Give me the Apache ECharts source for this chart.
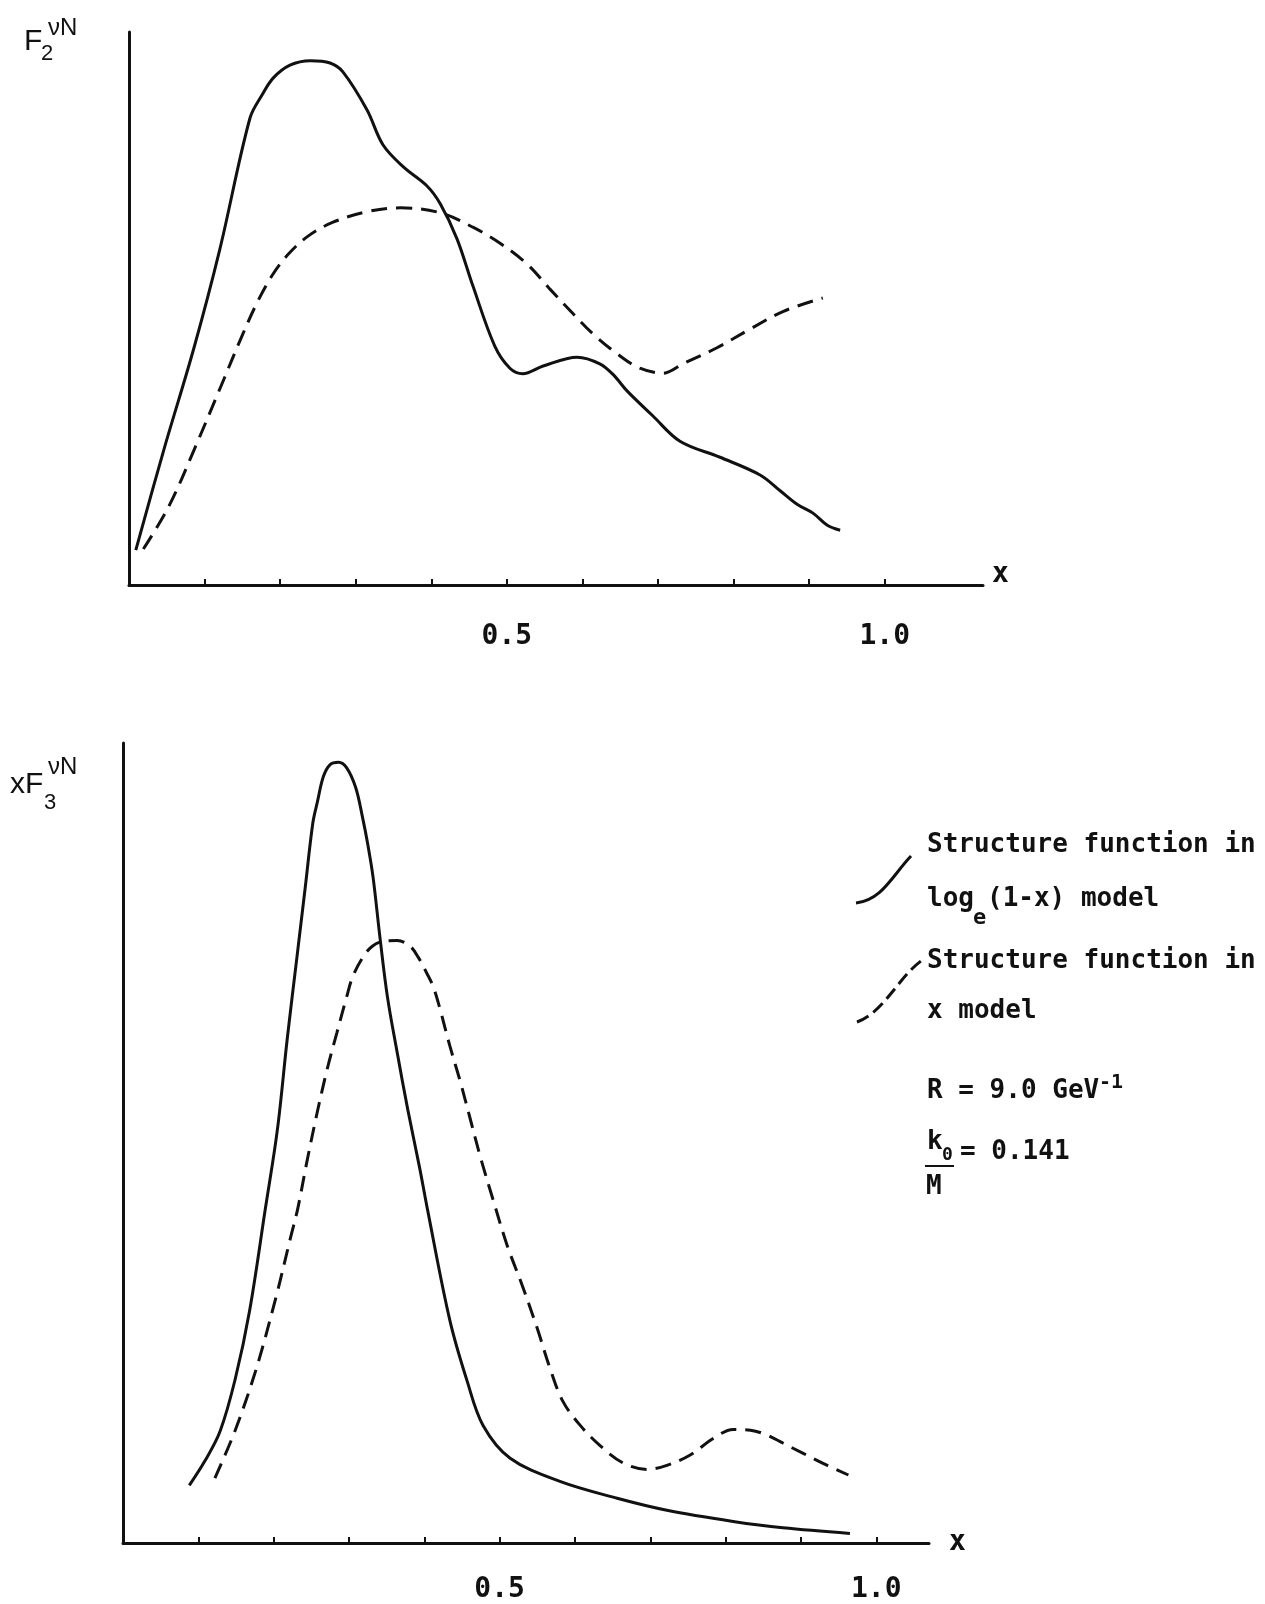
<!DOCTYPE html>
<html>
<head>
<meta charset="utf-8">
<script src="https://cdn.jsdelivr.net/npm/echarts@6/dist/echarts.min.js"></script>
<style>
  html, body { margin: 0; padding: 0; background: #fff; }
  #chart { width: 1265px; height: 1604px; }
</style>
</head>
<body>
<div id="chart"></div>
<script>
// F2 (top panel), log_e(1-x) model = solid, x model = dashed
const f2LogX = [0.009, 0.046, 0.086, 0.120, 0.160, 0.176, 0.191, 0.213, 0.240, 0.266, 0.283, 0.315, 0.336, 0.363, 0.394, 0.412, 0.434, 0.455, 0.484, 0.504, 0.521, 0.548, 0.593, 0.623, 0.641, 0.659, 0.693, 0.729, 0.782, 0.835, 0.862, 0.884, 0.905, 0.924, 0.941];
const f2LogY = [0.063, 0.244, 0.429, 0.606, 0.844, 0.886, 0.917, 0.940, 0.948, 0.944, 0.928, 0.859, 0.796, 0.756, 0.722, 0.689, 0.626, 0.541, 0.432, 0.392, 0.382, 0.396, 0.412, 0.400, 0.380, 0.351, 0.306, 0.260, 0.231, 0.199, 0.170, 0.146, 0.130, 0.108, 0.099];
const f2LinX = [0.019, 0.053, 0.086, 0.120, 0.150, 0.170, 0.190, 0.210, 0.236, 0.270, 0.315, 0.359, 0.412, 0.455, 0.491, 0.527, 0.557, 0.588, 0.614, 0.646, 0.676, 0.707, 0.733, 0.778, 0.822, 0.866, 0.918];
const f2LinY = [0.065, 0.143, 0.244, 0.354, 0.452, 0.512, 0.561, 0.597, 0.630, 0.656, 0.675, 0.682, 0.673, 0.647, 0.618, 0.580, 0.535, 0.490, 0.454, 0.418, 0.392, 0.383, 0.400, 0.429, 0.463, 0.495, 0.519];

// xF3 (bottom panel)
const xf3LogX = [0.088, 0.109, 0.129, 0.149, 0.168, 0.189, 0.205, 0.218, 0.231, 0.242, 0.252, 0.258, 0.266, 0.275, 0.286, 0.297, 0.309, 0.318, 0.325, 0.332, 0.341, 0.351, 0.364, 0.378, 0.394, 0.404, 0.434, 0.457, 0.478, 0.514, 0.580, 0.656, 0.722, 0.810, 0.876, 0.965];
const xf3LogY = [0.072, 0.103, 0.140, 0.205, 0.290, 0.418, 0.517, 0.630, 0.733, 0.820, 0.900, 0.926, 0.958, 0.973, 0.976, 0.969, 0.944, 0.907, 0.873, 0.832, 0.758, 0.683, 0.613, 0.542, 0.468, 0.418, 0.278, 0.202, 0.147, 0.106, 0.077, 0.056, 0.041, 0.027, 0.019, 0.012];
const xf3LinX = [0.122, 0.149, 0.177, 0.203, 0.223, 0.232, 0.244, 0.258, 0.271, 0.284, 0.297, 0.305, 0.319, 0.331, 0.345, 0.364, 0.381, 0.392, 0.404, 0.412, 0.421, 0.434, 0.448, 0.461, 0.474, 0.491, 0.510, 0.530, 0.550, 0.567, 0.584, 0.607, 0.633, 0.664, 0.696, 0.722, 0.753, 0.784, 0.810, 0.833, 0.855, 0.876, 0.903, 0.935, 0.963];
const xf3LinY = [0.081, 0.141, 0.218, 0.307, 0.384, 0.418, 0.476, 0.539, 0.592, 0.638, 0.683, 0.708, 0.733, 0.746, 0.752, 0.753, 0.746, 0.732, 0.711, 0.695, 0.667, 0.621, 0.576, 0.530, 0.484, 0.430, 0.372, 0.322, 0.268, 0.218, 0.177, 0.147, 0.122, 0.100, 0.092, 0.097, 0.110, 0.131, 0.142, 0.141, 0.135, 0.125, 0.112, 0.097, 0.085];

const xTicks = [0.1, 0.2, 0.3, 0.4, 0.5, 0.6, 0.7, 0.8, 0.9, 1.0];
const xTickLabels = [0.5, 1.0];

const pairs = (xs, ys) => xs.map((x, i) => [x, ys[i]]);

const INK = "#111";
const MONO = '"DejaVu Sans Mono", monospace';
const SANS = '"Liberation Sans", Arial, sans-serif';

function xAxisOpt(gridIndex, max, nameGap, nameAlign, labelMargin) {
  return {
    type: "value",
    gridIndex: gridIndex,
    min: 0,
    max: max,
    name: "x",
    nameLocation: "end",
    nameGap: nameGap,
    nameTextStyle: { color: INK, fontFamily: MONO, fontSize: 28, fontWeight: "bold", verticalAlign: nameAlign, lineHeight: 20 },
    axisLine: { show: true, lineStyle: { color: INK, width: 3 } },
    axisTick: { show: true, inside: true, length: 6, customValues: xTicks, lineStyle: { color: INK, width: 2 } },
    axisLabel: {
      show: true,
      customValues: xTickLabels,
      margin: labelMargin,
      color: INK,
      fontFamily: MONO,
      fontSize: 28,
      fontWeight: "bold",
      formatter: v => Number(v).toFixed(1)
    },
    splitLine: { show: false }
  };
}

function yAxisOpt(gridIndex) {
  return {
    type: "value",
    gridIndex: gridIndex,
    min: 0,
    max: 1,
    axisLine: { show: true, lineStyle: { color: INK, width: 3 } },
    axisTick: { show: false },
    axisLabel: { show: false },
    splitLine: { show: false }
  };
}

function curve(idx, data, dashed) {
  return {
    type: "line",
    xAxisIndex: idx,
    yAxisIndex: idx,
    data: data,
    smooth: 0.35,
    showSymbol: false,
    silent: true,
    lineStyle: { color: INK, width: 3, type: dashed ? [16, 9] : "solid", cap: "butt" }
  };
}

function txt(x, y, text, font, extra) {
  return {
    type: "text",
    x: x,
    y: y,
    style: Object.assign({ text: text, font: font, fill: INK, align: "left", verticalAlign: "middle" }, extra || {})
  };
}

const B = "bold ";

const chart = echarts.init(document.getElementById("chart"));
chart.setOption({
  animation: false,
  backgroundColor: "#fff",
  grid: [
    { left: 129, top: 32, width: 854, height: 553 },
    { left: 123, top: 743, width: 806, height: 802 }
  ],
  xAxis: [
    xAxisOpt(0, 1.13, 9, "bottom", 38),
    xAxisOpt(1, 1.07, 20, "middle", 33)
  ],
  yAxis: [yAxisOpt(0), yAxisOpt(1)],
  series: [
    curve(0, pairs(f2LogX, f2LogY), false),
    curve(0, pairs(f2LinX, f2LinY), true),
    curve(1, pairs(xf3LogX, xf3LogY), false),
    curve(1, pairs(xf3LinX, xf3LinY), true)
  ],
  graphic: [
    // y axis titles
    txt(24, 42, "F", "30px " + SANS),
    txt(41, 54, "2", "22px " + SANS),
    txt(48, 28, "νN", "24px " + SANS),
    txt(10, 785, "xF", "30px " + SANS),
    txt(44, 803, "3", "22px " + SANS),
    txt(48, 767, "νN", "24px " + SANS),

    // legend
    {
      type: "bezierCurve",
      shape: { x1: 856, y1: 903, cpx1: 882, cpy1: 900, cpx2: 892, cpy2: 876, x2: 911, y2: 856 },
      style: { stroke: INK, lineWidth: 3, fill: null }
    },
    txt(927, 845, "Structure function in", B + "26px " + MONO),
    txt(927, 899, "log", B + "26px " + MONO),
    txt(973, 918, "e", B + "22px " + MONO),
    txt(987, 899, "(1-x) model", B + "26px " + MONO),
    {
      type: "bezierCurve",
      shape: { x1: 857, y1: 1022, cpx1: 884, cpy1: 1012, cpx2: 898, cpy2: 978, x2: 921, y2: 961 },
      style: { stroke: INK, lineWidth: 3, fill: null, lineDash: [13, 6] }
    },
    txt(927, 961, "Structure function in", B + "26px " + MONO),
    txt(927, 1011, "x model", B + "26px " + MONO),

    txt(927, 1091, "R = 9.0 GeV", B + "26px " + MONO),
    txt(1099, 1083, "-1", B + "20px " + MONO),

    txt(927, 1142, "k", B + "26px " + MONO),
    txt(942, 1155, "0", B + "18px " + MONO),
    { type: "line", shape: { x1: 925, y1: 1166, x2: 954, y2: 1166 }, style: { stroke: INK, lineWidth: 2 } },
    txt(960, 1152, "= 0.141", B + "26px " + MONO),
    txt(926, 1187, "M", B + "26px " + MONO)
  ]
});
</script>
</body>
</html>
